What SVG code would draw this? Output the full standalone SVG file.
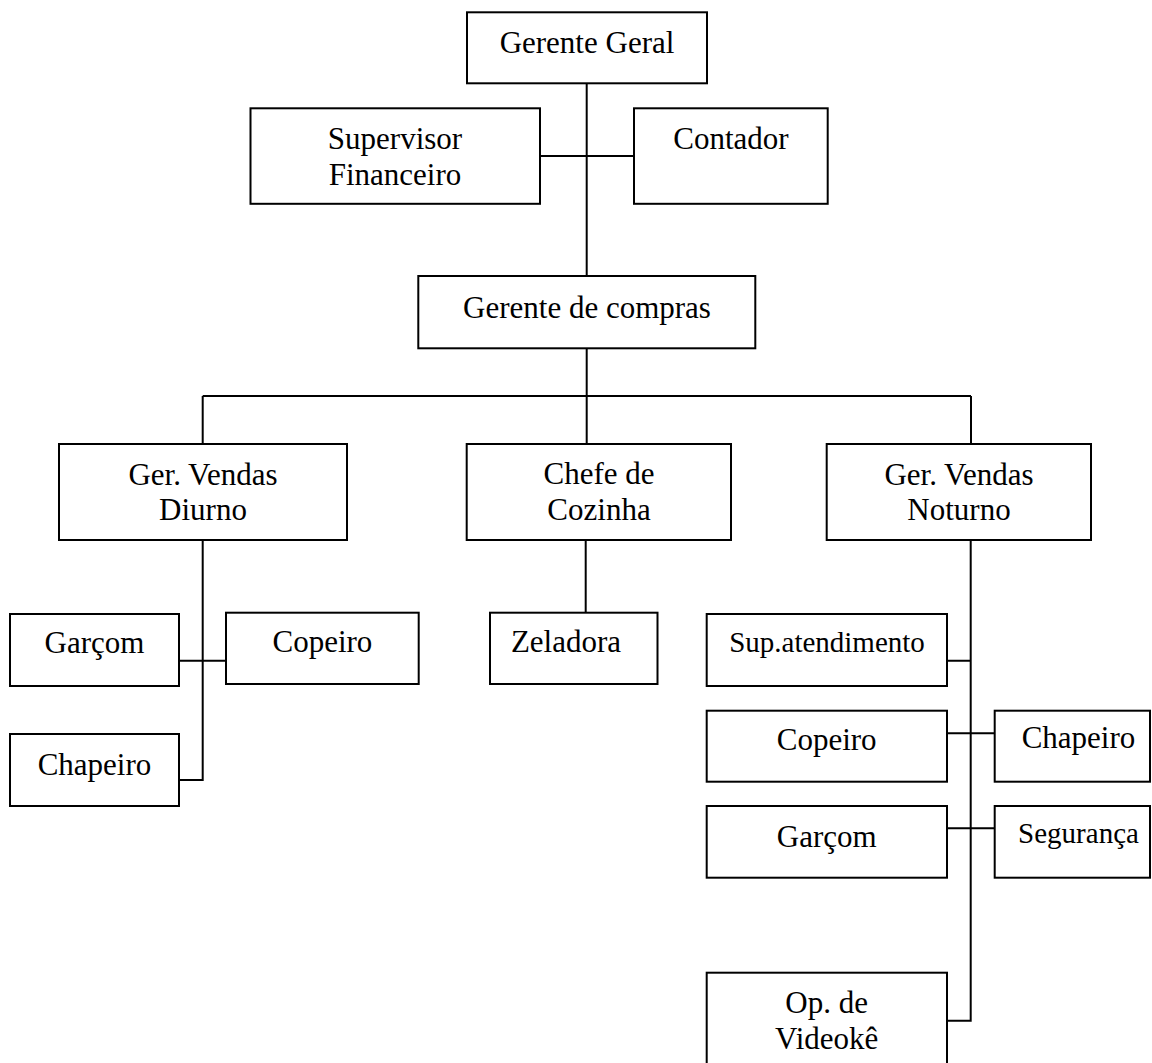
<svg xmlns="http://www.w3.org/2000/svg" width="1152" height="1063" viewBox="0 0 1152 1063">
  <style>
    .box { fill: #ffffff; stroke: #000000; stroke-width: 2; }
    .lbl { font-family: "Liberation Serif", "Times New Roman", serif; font-size: 31px; fill: #000000; text-anchor: middle; }
    .sm { font-size: 29px; }
    .wire { fill: none; stroke: #000000; stroke-width: 2; }
  </style>
  <rect width="1152" height="1063" fill="#ffffff"/>

  <!-- connectors -->
  <g id="connectors" class="wire">
    <path d="M586.7 83 V276"/>
    <path d="M540 156 H634"/>
    <path d="M586.7 348 V396"/>
    <path d="M202.7 396 H971"/>
    <path d="M202.7 396 V444 M586.7 396 V444 M971 396 V444"/>
    <path d="M202.7 540 V780 H179 M179 660.7 H226"/>
    <path d="M585.7 540 V612.7"/>
    <path d="M970.7 540 V1020.7 H947 M947 660.7 H970.7 M947 733.3 H994.7 M947 828.3 H994.7"/>
  </g>

  <!-- top level -->
  <g id="gerente-geral">
    <rect class="box" x="467" y="12.3" width="240" height="71"/>
    <text class="lbl" x="587" y="53.3">Gerente Geral</text>
  </g>
  <g id="supervisor-financeiro">
    <rect class="box" x="250.5" y="108.3" width="289.5" height="95.5"/>
    <text class="lbl" x="395" y="149">Supervisor</text>
    <text class="lbl" x="395" y="185">Financeiro</text>
  </g>
  <g id="contador">
    <rect class="box" x="634" y="108.3" width="193.7" height="95.5"/>
    <text class="lbl" x="731" y="149">Contador</text>
  </g>
  <g id="gerente-compras">
    <rect class="box" x="418.3" y="276" width="337" height="72.3"/>
    <text class="lbl" x="587" y="318">Gerente de compras</text>
  </g>

  <!-- second level -->
  <g id="ger-vendas-diurno">
    <rect class="box" x="59" y="444" width="288" height="96"/>
    <text class="lbl" x="203" y="485">Ger. Vendas</text>
    <text class="lbl" x="203" y="520">Diurno</text>
  </g>
  <g id="chefe-cozinha">
    <rect class="box" x="466.7" y="444" width="264.3" height="96"/>
    <text class="lbl" x="599" y="484">Chefe de</text>
    <text class="lbl" x="599" y="520">Cozinha</text>
  </g>
  <g id="ger-vendas-noturno">
    <rect class="box" x="826.7" y="444" width="264.3" height="96"/>
    <text class="lbl" x="959" y="485">Ger. Vendas</text>
    <text class="lbl" x="959" y="520">Noturno</text>
  </g>

  <!-- day staff -->
  <g id="garcom-diurno">
    <rect class="box" x="10" y="614" width="169" height="72"/>
    <text class="lbl" x="94.5" y="653">Garçom</text>
  </g>
  <g id="copeiro-diurno">
    <rect class="box" x="226" y="612.7" width="192.7" height="71.3"/>
    <text class="lbl" x="322.4" y="651.7">Copeiro</text>
  </g>
  <g id="chapeiro-diurno">
    <rect class="box" x="10" y="734" width="169" height="72"/>
    <text class="lbl" x="94.5" y="775">Chapeiro</text>
  </g>

  <!-- kitchen staff -->
  <g id="zeladora">
    <rect class="box" x="490" y="612.7" width="167.5" height="71.3"/>
    <text class="lbl" x="566" y="651.7">Zeladora</text>
  </g>

  <!-- night staff -->
  <g id="sup-atendimento">
    <rect class="box" x="706.7" y="614" width="240.3" height="72"/>
    <text class="lbl sm" x="827" y="652.3">Sup.atendimento</text>
  </g>
  <g id="copeiro-noturno">
    <rect class="box" x="706.7" y="710.7" width="240.3" height="71"/>
    <text class="lbl" x="826.7" y="750">Copeiro</text>
  </g>
  <g id="chapeiro-noturno">
    <rect class="box" x="994.7" y="710.7" width="155.3" height="71"/>
    <text class="lbl" x="1078.5" y="748">Chapeiro</text>
  </g>
  <g id="garcom-noturno">
    <rect class="box" x="706.7" y="806" width="240.3" height="71.7"/>
    <text class="lbl" x="826.7" y="846.7">Garçom</text>
  </g>
  <g id="seguranca">
    <rect class="box" x="994.7" y="806" width="155.3" height="71.7"/>
    <text class="lbl sm" x="1078.5" y="842.7">Segurança</text>
  </g>
  <g id="op-videoke">
    <rect class="box" x="706.7" y="972.7" width="240.3" height="110"/>
    <text class="lbl" x="826.7" y="1013.3">Op. de</text>
    <text class="lbl" x="826.7" y="1049.3">Videokê</text>
  </g>
</svg>
